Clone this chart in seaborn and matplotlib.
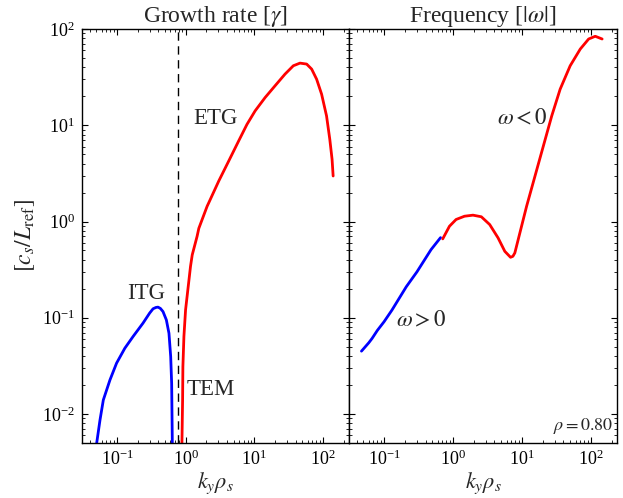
import numpy as np
import pandas as pd
import matplotlib
matplotlib.use("Agg")
import matplotlib.pyplot as plt
import seaborn as sns

# Growth rate: ITG branch (ion scale)
itg_k = [0.0508, 0.0567, 0.0634, 0.0792, 0.0989, 0.1305, 0.172, 0.240, 0.30, 0.336, 0.37, 0.397,
         0.43, 0.469, 0.525, 0.573, 0.607, 0.627, 0.641]
itg_gamma = [0.00502, 0.00866, 0.0140, 0.0226, 0.0338, 0.0483, 0.0639, 0.088, 0.112, 0.124, 0.128, 0.129,
             0.125, 0.116, 0.095, 0.069, 0.0396, 0.0209, 0.005]

# Growth rate: TEM/ETG branch (electron scale)
etg_k = [0.885, 0.905, 0.914, 0.946, 1.0, 1.18, 1.25, 1.47, 1.56, 2.06, 2.18, 3.04, 4.25, 5.93, 7.83,
         10.3, 14.4, 20.1, 28.1, 37.1, 46.4, 58.0, 68.6, 81.0, 95.8, 113.0, 126.0, 136.0, 141.0]
etg_gamma = [0.005, 0.014, 0.031, 0.064, 0.121, 0.342, 0.45, 0.70, 0.85, 1.44, 1.57, 2.63, 4.25, 6.87, 10.2,
             14.1, 19.4, 25.7, 34.0, 41.5, 44.2, 43.2, 38.3, 30.1, 21.0, 12.5, 7.15, 4.43, 2.97]

# Real frequency |omega|: positive (ion) and negative (electron) branches
wpos_k = [0.047, 0.06, 0.067, 0.08, 0.1, 0.13, 0.21, 0.3, 0.48, 0.66]
wpos = [0.045, 0.055, 0.061, 0.074, 0.091, 0.12, 0.21, 0.3, 0.51, 0.68]

wneg_k = [0.71, 0.889, 1.11, 1.47, 1.95, 2.58, 3.41, 4.51, 5.65, 6.84, 7.4, 7.9, 9.35, 11.7, 15.5, 20.5,
          27.1, 35.9, 50.2, 70.3, 93.0, 116.0, 146.0]
wneg = [0.66, 0.893, 1.05, 1.135, 1.164, 1.12, 0.93, 0.676, 0.49, 0.425, 0.435, 0.472, 0.762, 1.44, 2.97, 6.1,
        12.5, 23.7, 41.5, 61.9, 78.7, 84.0, 78.7]

k_split = 0.774
rho_label = r"$\rho=0.80$"

sns.set_style("ticks")
plt.rcParams.update({
    "font.family": "serif",
    "font.serif": ["Liberation Serif", "DejaVu Serif"],
    "mathtext.fontset": "stix",
    "xtick.direction": "in",
    "ytick.direction": "in",
    "xtick.top": True,
    "ytick.right": True,
    "xtick.major.size": 4.5,
    "ytick.major.size": 4.5,
    "xtick.minor.size": 2.2,
    "ytick.minor.size": 2.2,
    "xtick.major.width": 0.8,
    "ytick.major.width": 0.8,
    "xtick.minor.width": 0.6,
    "ytick.minor.width": 0.6,
    "axes.linewidth": 1.0,
    "axes.edgecolor": "black",
    "xtick.color": "black",
    "ytick.color": "black",
})

fig = plt.figure(figsize=(6.23, 4.98), dpi=100)
ax1 = fig.add_axes([0.1316, 0.1104, 0.4286, 0.8314])
ax2 = fig.add_axes([0.5602, 0.1104, 0.4302, 0.8314], sharey=ax1)

for ax in (ax1, ax2):
    ax.set_xscale("log")
    ax.set_yscale("log")

lw = 2.0
sns.lineplot(data=pd.DataFrame({"k": itg_k, "v": itg_gamma}), x="k", y="v", ax=ax1,
             color="#0000ff", lw=lw, estimator=None, sort=False)
sns.lineplot(data=pd.DataFrame({"k": etg_k, "v": etg_gamma}), x="k", y="v", ax=ax1,
             color="#ff0000", lw=lw, estimator=None, sort=False)
ax1.axvline(k_split, color="black", lw=1.0, ls=(0, (6, 4)))

sns.lineplot(data=pd.DataFrame({"k": wpos_k, "v": wpos}), x="k", y="v", ax=ax2,
             color="#0000ff", lw=lw, estimator=None, sort=False)
sns.lineplot(data=pd.DataFrame({"k": wneg_k, "v": wneg}), x="k", y="v", ax=ax2,
             color="#ff0000", lw=lw, estimator=None, sort=False)

for ax in (ax1, ax2):
    ax.set_xlim(0.031, 240)
    ax.set_ylim(0.005, 100)
    ax.set_xlabel(r"$k_y\rho_s$", fontsize=16, labelpad=1)
    ax.tick_params(axis="both", which="both", direction="in", top=True, right=True,
                   labelsize=13, pad=5)

ax1.set_ylabel(r"$[c_s/L_\mathrm{ref}]$", fontsize=17)
ax2.set_ylabel("")
ax2.tick_params(axis="y", labelleft=False)

ax1.set_title(r"Growth rate [$\gamma$]", fontsize=17, pad=4)
ax2.set_title(r"Frequency [$|\omega|$]", fontsize=17, pad=4)

ann = dict(fontsize=16.5, ha="left", va="center")
ax1.text(1.31, 11.8, "ETG", **ann)
ax1.text(0.14, 0.178, "ITG", **ann)
ax1.text(1.03, 0.0178, "TEM", **ann)
ax2.text(4.4, 11.7, r"$\omega<0$", **ann)
ax2.text(0.151, 0.092, r"$\omega>0$", **ann)
ax2.text(0.985, 0.04, rho_label, transform=ax2.transAxes, fontsize=13, ha="right", va="center")

fig.savefig("out.png", dpi=100)
